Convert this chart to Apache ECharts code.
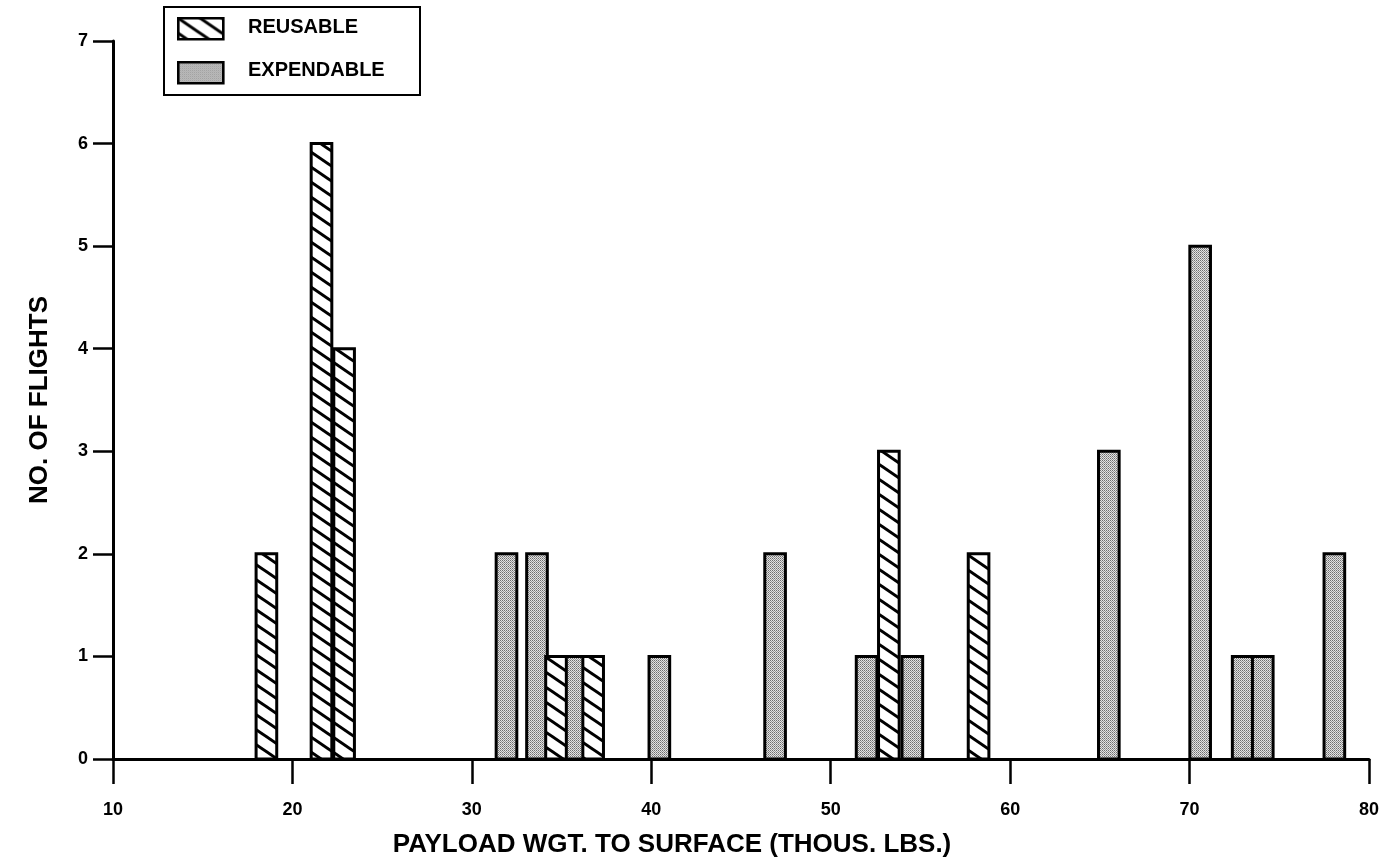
<!DOCTYPE html>
<html>
<head>
<meta charset="utf-8">
<script src="https://cdn.jsdelivr.net/npm/echarts@6/dist/echarts.min.js"></script>
<style>
  html, body { margin: 0; padding: 0; background: #fff; }
  #chart { width: 1390px; height: 865px; }
</style>
</head>
<body>
<div id="chart"></div>
<script>
// ---- data ----
const reusableX = [18.55, 21.62, 22.88, 34.69, 36.76, 53.24, 58.24];
const reusableN = [2, 6, 4, 1, 1, 3, 2];
const expendableX = [31.93, 33.63, 35.75, 40.45, 46.9, 52.0, 54.55, 65.5, 70.59, 72.96, 74.08, 78.07];
const expendableN = [2, 2, 1, 1, 2, 1, 1, 3, 5, 1, 1, 2];
const xTicks = [10, 20, 30, 40, 50, 60, 70, 80];
const yTicks = [0, 1, 2, 3, 4, 5, 6, 7];
const seriesNames = ['REUSABLE', 'EXPENDABLE'];
const xTitle = 'PAYLOAD WGT. TO SURFACE (THOUS. LBS.)';
const yTitle = 'NO. OF FLIGHTS';

// ---- patterns ----
function hatchPattern() {
  const c = document.createElement('canvas');
  const w = 22, h = 15;
  c.width = w; c.height = h;
  const g = c.getContext('2d');
  g.fillStyle = '#fff'; g.fillRect(0, 0, w, h);
  g.strokeStyle = '#000'; g.lineWidth = 3;
  for (let k = -1; k <= 1; k++) {
    g.beginPath();
    g.moveTo(-2, -2 * h / w + k * h);
    g.lineTo(w + 2, h + 2 * h / w + k * h);
    g.stroke();
  }
  return c;
}
function stipplePattern() {
  const c = document.createElement('canvas');
  c.width = 2; c.height = 2;
  const g = c.getContext('2d');
  g.fillStyle = '#e2e2e2'; g.fillRect(0, 0, 2, 2);
  g.fillStyle = '#6e6e6e'; g.fillRect(0, 0, 1, 1);
  g.fillStyle = '#969696'; g.fillRect(1, 1, 1, 1);
  return c;
}
const hatch = { image: hatchPattern(), repeat: 'repeat' };
const stipple = { image: stipplePattern(), repeat: 'repeat' };

const BAR_W = 1.15; // bar width in x units
function makeRender(fill) {
  return function (params, api) {
    const x = api.value(0), y = api.value(1);
    const p0 = api.coord([x - BAR_W / 2, 0]);
    const p1 = api.coord([x + BAR_W / 2, y]);
    return {
      type: 'rect',
      shape: { x: p0[0], y: p1[1], width: p1[0] - p0[0], height: p0[1] - p1[1] },
      style: { fill: fill, stroke: '#000', lineWidth: 3 }
    };
  };
}

const font = '"Liberation Sans", Arial, Helvetica, sans-serif';
const chart = echarts.init(document.getElementById('chart'), null, { renderer: 'canvas' });
chart.setOption({
  animation: false,
  backgroundColor: '#fff',
  grid: { left: 113, right: 21, top: 41, bottom: 106, containLabel: false },
  xAxis: {
    type: 'value', min: xTicks[0], max: xTicks[xTicks.length - 1], interval: 10,
    name: xTitle, nameLocation: 'middle', nameGap: 73,
    nameTextStyle: { fontFamily: font, fontWeight: 'bold', fontSize: 26, color: '#000', padding: [0, 138, 0, 0] },
    axisLine: { show: true, onZero: false, lineStyle: { color: '#000', width: 3 } },
    axisTick: { show: true, inside: false, length: 25, lineStyle: { color: '#000', width: 2.5 } },
    axisLabel: { margin: 42, fontFamily: font, fontWeight: 'bold', fontSize: 18, color: '#000' },
    splitLine: { show: false }
  },
  yAxis: {
    type: 'value', min: yTicks[0], max: yTicks[yTicks.length - 1], interval: 1,
    name: yTitle, nameLocation: 'middle', nameGap: 60, nameRotate: 90,
    nameTextStyle: { fontFamily: font, fontWeight: 'bold', fontSize: 26, color: '#000' },
    axisLine: { show: true, lineStyle: { color: '#000', width: 3 } },
    axisTick: { show: true, inside: false, length: 20, lineStyle: { color: '#000', width: 2.5 } },
    axisLabel: { margin: 25, fontFamily: font, fontWeight: 'bold', fontSize: 18, color: '#000' },
    splitLine: { show: false }
  },
  series: [
    {
      name: seriesNames[0], type: 'custom', renderItem: makeRender(hatch),
      encode: { x: 0, y: 1 }, z: 3,
      data: reusableX.map((x, i) => [x, reusableN[i]])
    },
    {
      name: seriesNames[1], type: 'custom', renderItem: makeRender(stipple),
      encode: { x: 0, y: 1 }, z: 2,
      data: expendableX.map((x, i) => [x, expendableN[i]])
    }
  ],
  graphic: [
    { type: 'rect', left: 163, top: 6, shape: { width: 256, height: 88 },
      style: { fill: '#fff', stroke: '#000', lineWidth: 2 }, z: 10 },
    { type: 'rect', left: 177, top: 17, shape: { width: 45, height: 21 },
      style: { fill: hatch, stroke: '#000', lineWidth: 2.6 }, z: 11 },
    { type: 'rect', left: 177, top: 61, shape: { width: 45, height: 21 },
      style: { fill: stipple, stroke: '#000', lineWidth: 2.6 }, z: 11 },
    { type: 'text', left: 248, top: 17, z: 11,
      style: { text: seriesNames[0], fontFamily: font, fontWeight: 'bold', fontSize: 20, fill: '#000' } },
    { type: 'text', left: 248, top: 60, z: 11,
      style: { text: seriesNames[1], fontFamily: font, fontWeight: 'bold', fontSize: 20, fill: '#000' } }
  ]
});
</script>
</body>
</html>
